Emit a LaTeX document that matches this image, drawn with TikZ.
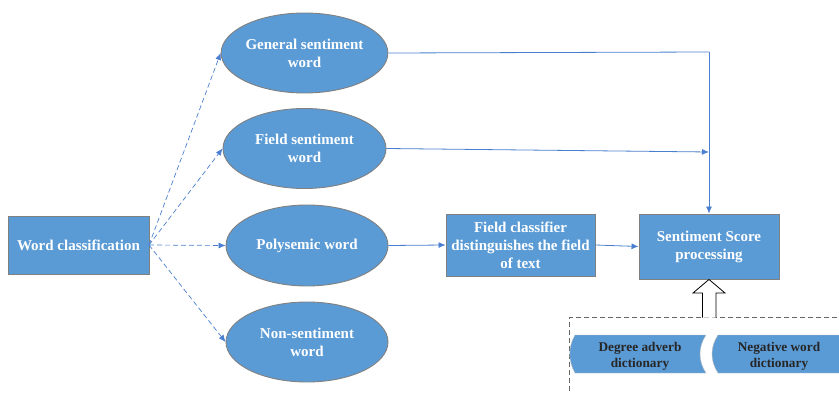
\documentclass[tikz,border=0pt]{standalone}
\usepackage{fontspec}
\setmainfont{Liberation Serif}
\usetikzlibrary{arrows.meta,shapes.geometric}
\definecolor{boxblue}{HTML}{5B9BD5}
\definecolor{lineblue}{HTML}{4A7FD0}
\definecolor{edgegray}{HTML}{808080}

\begin{document}
\begin{tikzpicture}[x=1pt,y=-1pt,
        every node/.style={font=\fontsize{15}{18}\selectfont\bfseries,text=white,align=center},
        rbox/.style={draw=edgegray,fill=boxblue,line width=0.9pt,inner sep=0pt},%plain blue box
        oval/.style={ellipse,draw=edgegray,fill=boxblue,line width=0.9pt,minimum width=163,minimum height=80,inner sep=0pt},
        dasharrow/.style={lineblue,dashed,line width=0.7pt,dash pattern=on 5pt off 3pt,-{Latex[length=7pt,width=6pt]}},
        flow/.style={lineblue,line width=0.8pt,-{Latex[length=7pt,width=6pt]}},
        dict/.style={text=black!85,font=\fontsize{13.3}{16}\selectfont\bfseries}
        ]
\useasboundingbox (0,0) rectangle (839,393);
\clip (0,0) rectangle (839,393);

\node[rbox,minimum width=141,minimum height=58] (wordclass) at (78.5,245) {Word classification};

\node[oval] (general) at (304.5,53) {General sentiment\\word};
\node[oval] (fieldword) at (304.5,148.5) {Field sentiment\\word};
\node[oval,minimum width=162,minimum height=81] (polysemic) at (307,245.5) {Polysemic word};
\node[oval,minimum width=162] (nonsent) at (307,342) {Non-sentiment\\word};

\node[rbox,minimum width=149,minimum height=62] (fieldclass) at (520.5,245) {Field classifier\\distinguishes the field\\of text};
\node[rbox,minimum width=140,minimum height=65] (score) at (709,246.5) {Sentiment Score\\processing};

%dashed connectors from the classification box
\coordinate (fork) at (149,245);
\draw[dasharrow] (fork) -- (general.west);
\draw[dasharrow] (fork) -- (fieldword.west);
\draw[dasharrow] (fork) -- (polysemic.west);
\draw[dasharrow] (fork) -- (nonsent.west);

%solid connectors towards the score box
\coordinate (corner) at (709,52);
\coordinate (join) at (709,152);
\draw[lineblue,line width=0.8pt] (general.east) -- (corner);
\draw[flow] (corner) -- (score.north);
\draw[flow] (fieldword.east) -- (join);
\draw[flow] (polysemic.east) -- (fieldclass.west);
\draw[flow] (fieldclass.east) -- (score.west);

%dictionary group
\coordinate (groupcorner) at (569.5,317.5);
\draw[edgegray!80!black,line width=0.9pt,dash pattern=on 5pt off 3pt]
    (845,317.5) -- (groupcorner) -- (569.5,400);
\fill[boxblue,draw=gray!50] (575,335) -- (706,335) .. controls (698,347) and (698,361) .. (706,373)
    -- (575,373) .. controls (568,361) and (568,347) .. (575,335) -- cycle;
\fill[boxblue,draw=gray!50] (718,335) -- (845,335) -- (845,373) -- (718,373)
    .. controls (710,361) and (710,347) .. (718,335) -- cycle;
\node[dict] (degree) at (640,356) {Degree adverb\\dictionary};
\node[dict] (negative) at (779,356) {Negative word\\dictionary};

%hollow block arrow up to the score box
\draw[line width=0.8pt,fill=white] (702.5,317.5) -- (702.5,293) -- (693,293) -- (score.south)
    -- (725,293) -- (716,293) -- (716,317.5);
\end{tikzpicture}
\end{document}
